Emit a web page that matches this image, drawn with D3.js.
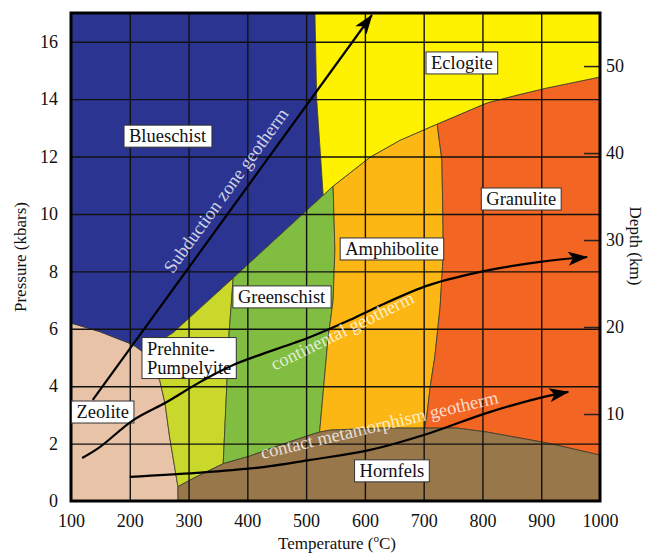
<!DOCTYPE html>
<html>
<head>
<meta charset="utf-8">
<script src="https://cdn.jsdelivr.net/npm/d3@7"></script>
<style>
  body { margin: 0; background: #fff; }
  svg { display: block; }
  text { font-family: "Liberation Serif", "Times New Roman", serif; }
</style>
</head>
<body>
<svg id="chart" width="648" height="554"></svg>
<script>
// axis ticks
const tempTicks = [100, 200, 300, 400, 500, 600, 700, 800, 900, 1000];
const pressureTicks = [0, 2, 4, 6, 8, 10, 12, 14, 16];
const depthTicks = [10, 20, 30, 40, 50];
const kmPerKbar = 3.3;

// facies fields, [temperature C, pressure kbar]
const zeolite = [[100,6.2],[149,5.9],[205,5.45],[222,5.2],[251,4.2],[260,3.4],[268,2.2],[277,1.1],[282,0.5],[282,0],[100,0]];
const blueschist = [[100,17],[515,17],[518,14],[524,12.2],[529,10.65],[376,7.77],[273,5.85],[222,5.2],[205,5.45],[149,5.9],[100,6.2]];
const prehnite = [[222,5.2],[273,5.85],[376,7.77],[369,5.85],[365,4.0],[359,1.3],[309,0.8],[282,0.5],[277,1.1],[268,2.2],[260,3.4],[251,4.2]];
const greenschist = [[376,7.77],[529,10.65],[546,10.97],[549,8.74],[546,7.0],[537,5.6],[523,2.4],[507,2.3],[456,1.95],[405,1.57],[359,1.3],[365,4.0],[369,5.85]];
const amphibolite = [[546,10.97],[609,11.98],[660,12.57],[723,13.13],[731,11.88],[733,9.55],[733,8.5],[728,6.76],[719,5.02],[711,3.97],[706,3.07],[702,2.54],[626,2.54],[541,2.47],[523,2.4],[537,5.6],[546,7.0],[549,8.74]];
const granulite = [[723,13.13],[808,13.87],[859,14.14],[910,14.39],[1000,14.77],[1000,1.6],[910,2.02],[808,2.4],[757,2.54],[702,2.54],[706,3.07],[711,3.97],[719,5.02],[728,6.76],[733,8.5],[733,9.55],[731,11.88]];
const eclogite = [[515,17],[1000,17],[1000,14.77],[910,14.39],[859,14.14],[808,13.87],[723,13.13],[660,12.57],[609,11.98],[546,10.97],[529,10.65],[524,12.2],[518,14]];
const hornfels = [[282,0],[282,0.5],[309,0.8],[359,1.3],[405,1.57],[456,1.95],[507,2.3],[523,2.4],[541,2.47],[626,2.54],[702,2.54],[757,2.54],[808,2.4],[910,2.02],[1000,1.6],[1000,0]];

// geotherms
const subductionGeotherm = [[137,3.52],[612,16.93]];
const continentalGeotherm = [[119,1.5],[149,1.88],[206,2.82],[263,3.45],[320,4.15],[376,4.74],[507,5.71],[575,6.31],[621,6.76],[709,7.52],[813,8.05],[898,8.33],[978,8.5]];
const contactGeotherm = [[200,0.84],[314,0.98],[427,1.18],[507,1.43],[609,1.78],[711,2.37],[808,3.07],[903,3.62],[946,3.8]];

// label anchors [text, T, P]
const faciesLabels = [
  ["Blueschist", 265, 12.71],
  ["Eclogite", 765, 15.26],
  ["Granulite", 866, 10.52],
  ["Amphibolite", 646, 8.78],
  ["Greenschist", 459, 7.11],
  ["Prehnite-\nPumpelyite", 301, 4.98],
  ["Zeolite", 154, 3.1],
  ["Hornfels", 646, 1.05]
];
const geothermLabels = [
  ["Subduction zone geotherm", 372, 10.69],
  ["continental geotherm", 566, 5.73],
  ["contact metamorphism geotherm", 627, 2.44]
];
const geothermLabelAngles = [null, -26, -13.3];

const facies = [
  { d: zeolite, color: "#e8c3a7" },
  { d: blueschist, color: "#2b3491" },
  { d: prehnite, color: "#c9d82b" },
  { d: greenschist, color: "#80bd41" },
  { d: amphibolite, color: "#fdb714" },
  { d: granulite, color: "#f26522" },
  { d: eclogite, color: "#fff200" },
  { d: hornfels, color: "#98774b" }
];

const svg = d3.select("#chart");
const margin = { left: 71, right: 48, top: 13, bottom: 53 };
const width = 648, height = 554;
const serif = "Liberation Serif, Times New Roman, serif";

const x = d3.scaleLinear().domain([100, 1000]).range([margin.left, width - margin.right]);
const y = d3.scaleLinear().domain([0, 17]).range([height - margin.bottom, margin.top]);
const depth = d3.scaleLinear().domain([0, 17 * kmPerKbar]).range([height - margin.bottom, margin.top]);

const defs = svg.append("defs");
defs.append("clipPath").attr("id", "plotclip")
  .append("rect")
  .attr("x", x(100)).attr("y", y(17))
  .attr("width", x(1000) - x(100)).attr("height", y(0) - y(17));

defs.append("marker")
  .attr("id", "arrow")
  .attr("markerUnits", "userSpaceOnUse")
  .attr("viewBox", "0 0 20 14")
  .attr("refX", 19).attr("refY", 7)
  .attr("markerWidth", 20).attr("markerHeight", 14)
  .attr("orient", "auto")
  .append("path")
  .attr("d", "M0,0 L20,7 L0,14 L5,7 Z")
  .attr("fill", "#000");

const plot = svg.append("g").attr("clip-path", "url(#plotclip)");

const area = d3.line().x(d => x(d[0])).y(d => y(d[1])).curve(d3.curveLinearClosed);

plot.selectAll(".facies")
  .data(facies)
  .enter()
  .append("path")
  .attr("class", "facies")
  .attr("d", d => area(d.d))
  .attr("fill", d => d.color)
  .attr("stroke", "#3a3a2a")
  .attr("stroke-width", 0.8)
  .attr("stroke-linejoin", "round");

// gridlines
plot.append("g")
  .attr("transform", `translate(0, ${y(17)})`)
  .call(d3.axisBottom(x).tickValues(tempTicks.slice(1, -1)).tickSize(y(0) - y(17)).tickFormat(""))
  .call(g => g.select(".domain").remove())
  .call(g => g.selectAll("line").attr("stroke", "#111").attr("stroke-width", 1.4));

plot.append("g")
  .attr("transform", `translate(${x(100)}, 0)`)
  .call(d3.axisRight(y).tickValues(pressureTicks.slice(1)).tickSize(x(1000) - x(100)).tickFormat(""))
  .call(g => g.select(".domain").remove())
  .call(g => g.selectAll("line").attr("stroke", "#111").attr("stroke-width", 1.4));

// depth ticks (inside, right edge)
const depthAxis = svg.append("g")
  .attr("transform", `translate(${x(1000)}, 0)`)
  .call(d3.axisRight(depth).tickValues(depthTicks).tickSize(-16).tickPadding(6).tickFormat(d3.format("d")))
  .call(g => g.select(".domain").remove())
  .attr("font-family", serif);
depthAxis.selectAll("line").attr("stroke", "#222").attr("stroke-width", 1.5);
depthAxis.selectAll("text").attr("font-size", 18).attr("fill", "#111");

// frame
svg.append("rect")
  .attr("x", x(100)).attr("y", y(17))
  .attr("width", x(1000) - x(100)).attr("height", y(0) - y(17))
  .attr("fill", "none").attr("stroke", "#000").attr("stroke-width", 3);

// pressure & temperature tick labels
const leftAxis = svg.append("g")
  .attr("transform", `translate(${x(100)}, 0)`)
  .call(d3.axisLeft(y).tickValues(pressureTicks).tickSize(0).tickPadding(13).tickFormat(d3.format("d")))
  .call(g => g.select(".domain").remove())
  .attr("font-family", serif);
leftAxis.selectAll("text").attr("font-size", 18).attr("fill", "#111");

const bottomAxis = svg.append("g")
  .attr("transform", `translate(0, ${y(0)})`)
  .call(d3.axisBottom(x).tickValues(tempTicks).tickSize(0).tickPadding(13).tickFormat(d3.format("d")))
  .call(g => g.select(".domain").remove())
  .attr("font-family", serif);
bottomAxis.selectAll("text").attr("font-size", 18).attr("fill", "#111");

// axis titles
svg.append("text")
  .attr("transform", `translate(26, ${(y(0) + y(17)) / 2}) rotate(-90)`)
  .attr("text-anchor", "middle")
  .attr("font-size", 17)
  .attr("fill", "#111")
  .text("Pressure (kbars)");

svg.append("text")
  .attr("transform", `translate(630, 246) rotate(90)`)
  .attr("text-anchor", "middle")
  .attr("font-size", 17)
  .attr("fill", "#111")
  .text("Depth (km)");

const tTitle = svg.append("text")
  .attr("x", 337).attr("y", 549)
  .attr("text-anchor", "middle")
  .attr("font-size", 17)
  .attr("fill", "#111");
tTitle.append("tspan").text("Temperature (");
tTitle.append("tspan").attr("font-size", 11).attr("dy", -7).text("o");
tTitle.append("tspan").attr("dy", 7).text("C)");

// facies labels
faciesLabels.forEach(([name, t, p]) => {
  const g = svg.append("g");
  const lines = name.split("\n");
  const txt = g.append("text")
    .attr("font-size", 18.5)
    .attr("fill", "#111")
    .attr("text-anchor", lines.length > 1 ? "start" : "middle");
  lines.forEach((line, i) => {
    txt.append("tspan").attr("x", 0).attr("dy", i === 0 ? 0 : 19).text(line);
  });
  const bb = txt.node().getBBox();
  const padX = 5, padY = 1;
  g.insert("rect", "text")
    .attr("x", bb.x - padX).attr("y", bb.y - padY)
    .attr("width", bb.width + 2 * padX).attr("height", bb.height + 2 * padY)
    .attr("fill", "#fff")
    .attr("stroke", "#333")
    .attr("stroke-width", 1);
  const cx = bb.x + bb.width / 2, cy = bb.y + bb.height / 2;
  g.attr("transform", `translate(${x(t) - cx}, ${y(p) - cy})`);
});

// geotherms
const curve = d3.line().x(d => x(d[0])).y(d => y(d[1])).curve(d3.curveCatmullRom);
[subductionGeotherm, continentalGeotherm, contactGeotherm].forEach(pts => {
  svg.append("path")
    .attr("d", curve(pts))
    .attr("fill", "none")
    .attr("stroke", "#000")
    .attr("stroke-width", 2.2)
    .attr("marker-end", "url(#arrow)");
});

const subAngle = Math.atan2(
  y(subductionGeotherm[1][1]) - y(subductionGeotherm[0][1]),
  x(subductionGeotherm[1][0]) - x(subductionGeotherm[0][0])
) * 180 / Math.PI;

geothermLabels.forEach(([label, t, p], i) => {
  const angle = geothermLabelAngles[i] === null ? subAngle : geothermLabelAngles[i];
  svg.append("text")
    .attr("transform", `translate(${x(t)}, ${y(p)}) rotate(${angle})`)
    .attr("text-anchor", "middle")
    .attr("font-size", 18.5)
    .attr("fill", "#fff")
    .attr("fill-opacity", 0.78)
    .text(label);
});
</script>
</body>
</html>
